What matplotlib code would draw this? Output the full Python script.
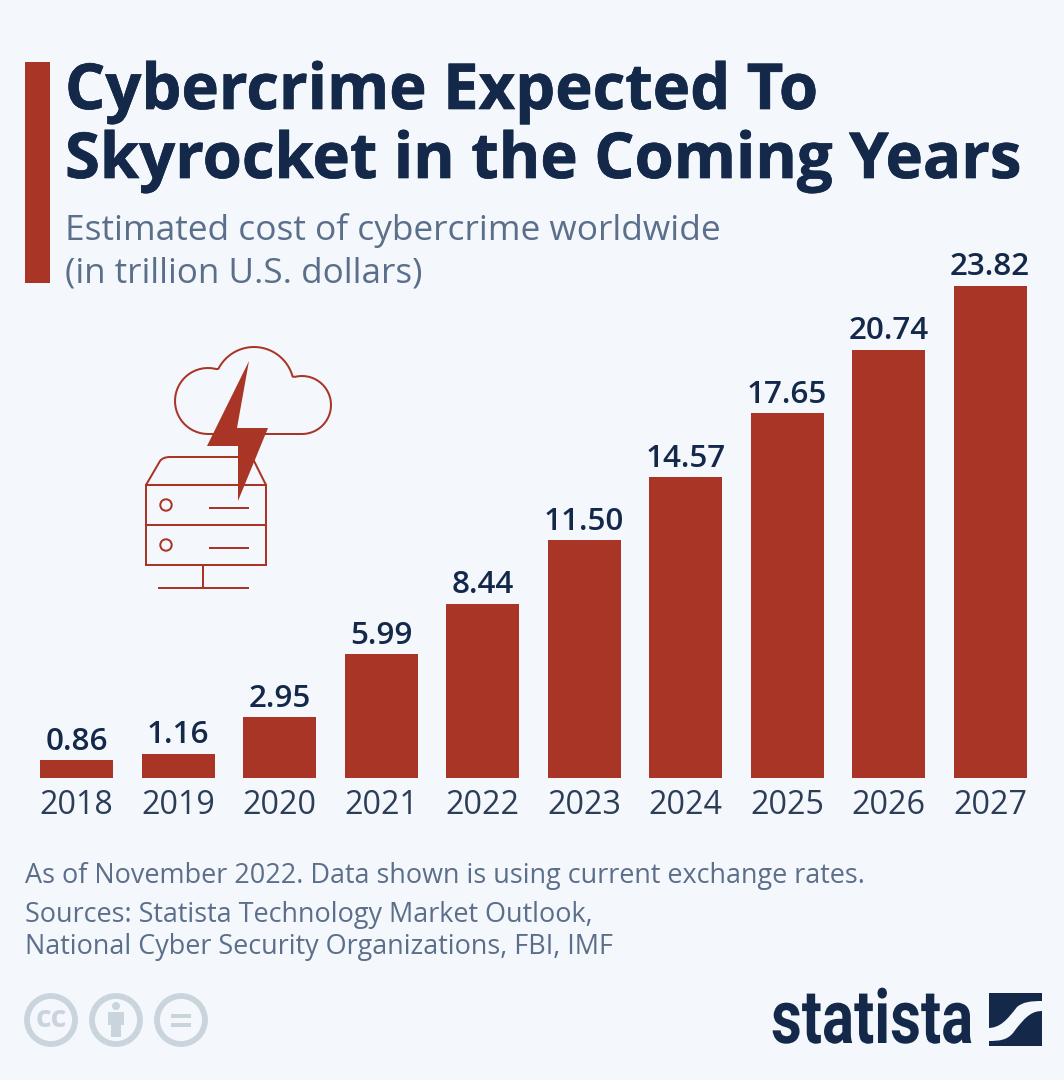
import matplotlib
matplotlib.use("Agg")
import numpy as np
import matplotlib.pyplot as plt
import matplotlib.patheffects as pe
from matplotlib.transforms import Affine2D
from matplotlib.patches import Rectangle, Circle, Polygon, PathPatch
from matplotlib.path import Path

years = ["2018","2019","2020","2021","2022","2023","2024","2025","2026","2027"]
values = [0.86,1.16,2.95,5.99,8.44,11.50,14.57,17.65,20.74,23.82]
value_labels = ["0.86","1.16","2.95","5.99","8.44","11.50","14.57","17.65","20.74","23.82"]

BG="#f4f8fc"; RED="#a93526"; NAVY="#14294a"; GREY="#5b6e8a"; ICON="#c9d4dc"
W,H=1064,1080
plt.rcParams['font.family']=['Open Sans','DejaVu Sans']
fig=plt.figure(figsize=(W/100,H/100),dpi=100,facecolor=BG)

ov=fig.add_axes([0,0,1,1]); ov.set_xlim(0,W); ov.set_ylim(H,0); ov.axis('off')

step=101.5; x0=76.5; left=25; right=1040
ax=fig.add_axes([left/W,(H-778)/H,(right-left)/W,(778-286)/H])
ax.set_facecolor('none')
ax.set_xlim((left-x0)/step,(right-x0)/step); ax.set_ylim(0,23.82)
xs=list(range(len(years)))
ax.bar(xs,values,width=73/step,color=RED,linewidth=0,clip_on=False)
for x,v,l in zip(xs,values,value_labels):
    ax.annotate(l,(x,v),xytext=(0,7.6),textcoords='offset points',ha='center',va='baseline',
                fontsize=22.6,fontweight=600,color=NAVY,annotation_clip=False)
ax.set_xticks(xs,years)
ax.tick_params(axis='x',length=0,pad=8,labelsize=23.2,labelcolor="#2c3d57")
ax.set_yticks([])
for s in ax.spines.values(): s.set_visible(False)

solid=[pe.withStroke(linewidth=0.5,foreground=NAVY)]
ov.add_patch(Rectangle((25,62),25,221,fc=RED,ec='none'))
ov.text(65,109,"Cybercrime Expected To",fontsize=45.6,fontweight='bold',color=NAVY,va='baseline',path_effects=solid)
ov.text(65,178,"Skyrocket in the Coming Years",fontsize=45.6,fontweight='bold',color=NAVY,va='baseline',path_effects=solid)
ov.text(65,240,"Estimated cost of cybercrime worldwide",fontsize=25.4,color=GREY,va='baseline')
ov.text(65,283,"(in trillion U.S. dollars)",fontsize=25.2,color=GREY,va='baseline')

ov.text(25,883,"As of November 2022. Data shown is using current exchange rates.",fontsize=19.45,color=GREY,va='baseline')
ov.text(25,922,"Sources: Statista Technology Market Outlook,",fontsize=19.45,color=GREY,va='baseline')
ov.text(25,954,"National Cyber Security Organizations, FBI, IMF",fontsize=19.45,color=GREY,va='baseline')

lw=1.45
for (a,b,c,d) in [(146,485,266,485),(146,525,266,525),(209,508,249,508),(209,548,249,548),
                  (203,565,203,588),(158,588,249,588)]:
    ov.plot([a,c],[b,d],color=RED,lw=lw,solid_capstyle='butt')
ov.add_patch(Rectangle((146,485),120,80,fc='none',ec=RED,lw=lw))
ov.add_patch(PathPatch(Path([(146,485),(160,461),(163,457),(170,457),(252,457),(266,485)],
    [Path.MOVETO,Path.LINETO,Path.CURVE3,Path.CURVE3,Path.LINETO,Path.LINETO]),fc='none',ec=RED,lw=lw))
for cy in (505,545):
    ov.add_patch(Circle((166,cy),5.7,fc='none',ec=RED,lw=lw))
def arc(cx,cy,r,a0,a1):
    t=np.radians(np.linspace(a0,a1,60))
    return np.column_stack([cx+r*np.cos(t),cy-r*np.sin(t)])
pts=np.vstack([arc(208,401,33,270,74.7),arc(254,387,40,152.8,15),arc(302,405,29,103.6,-90),[[208,434]]])
ov.plot(pts[:,0],pts[:,1],color=RED,lw=lw,solid_joinstyle='round')
ov.add_patch(Polygon([(249,361),(207,446),(238,446),(238,501),(268,428),(237,428)],fc=RED,ec='none',zorder=5))

ic=dict(fc='none',ec=ICON,lw=4.2)
for cx in (51,116,181):
    ov.add_patch(Circle((cx,1020),24,**ic))
ov.text(51,1019,"cc",fontsize=22,fontweight='bold',color=ICON,ha='center',va='center')
ov.add_patch(Circle((116,1006),4,fc=ICON,ec='none'))
ov.add_patch(Polygon([(108,1012),(124,1012),(124,1025),(121,1025),(121,1037),(111,1037),(111,1025),(108,1025)],fc=ICON,ec='none'))
ov.add_patch(Rectangle((171,1013.5),20,4.5,fc=ICON,ec='none'))
ov.add_patch(Rectangle((171,1022.5),20,4.5,fc=ICON,ec='none'))

# logo wordmark: real text, squeezed horizontally through a path effect
class Squeeze(pe.AbstractPathEffect):
    def __init__(self,sx,anchor):
        super().__init__()
        self.sx=sx; self.anchor=anchor
    def draw_path(self,renderer,gc,tpath,affine,rgbFace=None):
        a=affine+Affine2D().translate(-self.anchor,0).scale(self.sx,1).translate(self.anchor,0)
        renderer.draw_path(gc,tpath,a,rgbFace)
t=ov.text(771,1043,"statista",family='Roboto',fontweight='bold',fontsize=54,color=NAVY,va='baseline')
fig.canvas.draw()
t.set_path_effects([Squeeze(202/t.get_window_extent().width,771)])

ov.add_patch(Rectangle((989,993),53,53,fc=NAVY,ec='none'))
wave=Path([(988,1028),(1000,1028),(1007,1020),(1017,1007),(1023,1002),(1030,1001),(1043,1001),
           (1043,1011),(1033,1011),(1027,1014),(1013,1033),(1007,1040),(1000,1041),(988,1041),(988,1028)],
          [Path.MOVETO,Path.CURVE4,Path.CURVE4,Path.CURVE4,Path.CURVE4,Path.CURVE4,Path.CURVE4,
           Path.LINETO,Path.CURVE4,Path.CURVE4,Path.CURVE4,Path.CURVE4,Path.CURVE4,Path.CURVE4,Path.CLOSEPOLY])
ov.add_patch(PathPatch(wave,fc=BG,ec='none',zorder=4))

fig.savefig("out.png",dpi=100,facecolor=BG)
